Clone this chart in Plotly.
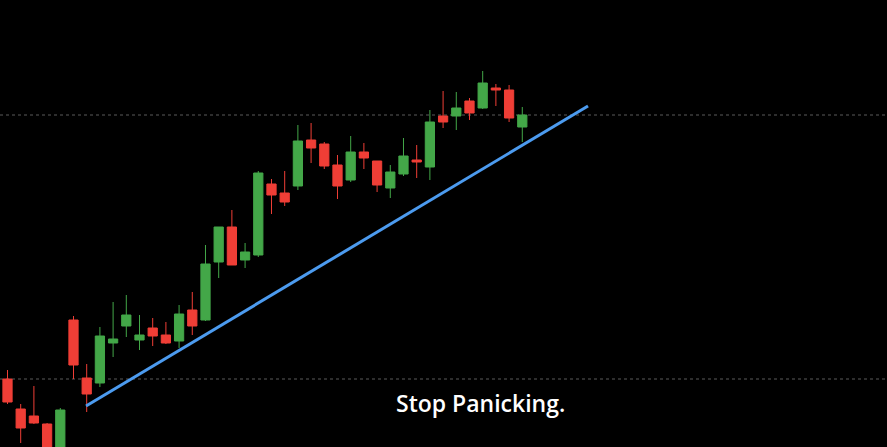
import plotly.graph_objects as go

# Candle index positions
idx = list(range(40))

# OHLC prices
opens  = [121, 91, 84, 76, 38, 180, 122, 117, 157, 174, 160, 172, 165, 159, 190, 180, 238, 273, 240, 245,
          316, 307, 314, 360, 356, 335, 320, 348, 339, 312, 326, 340, 333, 384, 384, 399, 392, 412, 410, 373]
highs  = [130, 96, 114, 77, 92, 184, 136, 173, 198, 205, 185, 182, 178, 195, 208, 255, 273, 290, 257, 329,
          321, 329, 375, 377, 358, 345, 364, 357, 339, 335, 362, 355, 390, 409, 408, 402, 429, 416, 415, 393]
lows   = [96, 57, 76, 35, 34, 121, 88, 113, 143, 163, 150, 154, 156, 152, 165, 179, 222, 235, 232, 243,
          286, 294, 310, 337, 331, 301, 318, 331, 308, 302, 324, 322, 320, 372, 370, 380, 391, 394, 378, 358]
closes = [98, 72, 77, 40, 90, 135, 106, 164, 161, 185, 165, 164, 157, 186, 174, 236, 273, 235, 248, 327,
          305, 298, 359, 352, 334, 314, 348, 342, 315, 328, 344, 338, 378, 378, 392, 387, 417, 410, 382, 385]

# Trend line through the lows
trend_x = [5.95, 43.98]
trend_y = [94, 394]

# Horizontal reference levels
levels = [385, 121]

label_text = "Stop Panicking."
label_x = 35.8
label_y = 97

fig = go.Figure()
fig.add_trace(go.Candlestick(
    x=idx, open=opens, high=highs, low=lows, close=closes,
    increasing=dict(line=dict(color="#43A748", width=1), fillcolor="#43A748"),
    decreasing=dict(line=dict(color="#EF3E36", width=1), fillcolor="#EF3E36"),
    whiskerwidth=0, showlegend=False, hoverinfo="skip",
))
fig.add_trace(go.Scatter(
    x=trend_x, y=trend_y, mode="lines",
    line=dict(color="#4C9BEF", width=3), showlegend=False, hoverinfo="skip",
))
for lv in levels:
    fig.add_shape(type="line", xref="paper", x0=0, x1=1, yref="y", y0=lv, y1=lv,
                  line=dict(color="#5a5a5a", width=1, dash="dot"), layer="below")

fig.add_annotation(x=label_x, y=label_y, text=label_text, showarrow=False,
                   font=dict(family="Open Sans", size=23, color="white", weight=600),
                   xanchor="center", yanchor="middle")

fig.update_layout(
    width=887, height=447,
    margin=dict(l=0, r=0, t=0, b=0),
    paper_bgcolor="black", plot_bgcolor="black",
    boxgap=0.3, boxgroupgap=0,
    xaxis=dict(range=[-0.568, 66.63], visible=False, rangeslider=dict(visible=False), fixedrange=True),
    yaxis=dict(range=[53, 500], visible=False, fixedrange=True),
)
fig.write_html("out.html", config={"displayModeBar": False},
               post_script="document.body.style.margin='0';document.body.style.background='black';")
